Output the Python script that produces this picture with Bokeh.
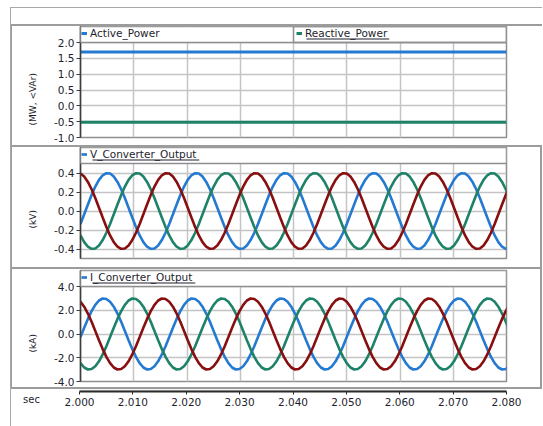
from bokeh.plotting import figure
from bokeh.models import (Range1d, FixedTicker, Grid, Legend, LegendItem, Title,
                          BoxAnnotation, PrintfTickFormatter, Spacer)
from bokeh.layouts import column, row
from bokeh.embed import file_html
from bokeh.resources import INLINE

# ---------------- data ----------------
X_START, X_END = 2.000, 2.080
X_TICKS = [2.000, 2.010, 2.020, 2.030, 2.040, 2.050, 2.060, 2.070, 2.080]

P_TICKS = [-1.0, -0.5, 0.0, 0.5, 1.0, 1.5, 2.0]
V_TICKS = [-0.4, -0.2, 0.0, 0.2, 0.4]
I_TICKS = [-4.0, -2.0, 0.0, 2.0, 4.0]
P_LIMITS = (-1.0, 2.0)
V_LIMITS = (-0.5, 0.5)
I_LIMITS = (-4.0, 4.0)

POWER_TIME = [2.000, 2.010, 2.020, 2.030, 2.040, 2.050, 2.060, 2.070, 2.080]
ACTIVE_POWER = [1.70, 1.70, 1.70, 1.70, 1.70, 1.70, 1.70, 1.70, 1.70]
REACTIVE_POWER = [-0.52, -0.52, -0.52, -0.52, -0.52, -0.52, -0.52, -0.52, -0.52]

# waveform sample grid (1/1440 s step = 15 electrical degrees at 60 Hz)
SAMPLE_STEP = 1.0 / 1440.0
TIME = [X_START + k * SAMPLE_STEP for k in range(117)]

V_PHASE_A = [
    -0.137, -0.035, 0.069, 0.169, 0.257, 0.328, 0.376, 0.398, 0.394, 0.363, 0.306, 0.229,
    0.137, 0.035, -0.069, -0.169, -0.257, -0.328, -0.376, -0.398, -0.394, -0.363, -0.306, -0.229,
    -0.137, -0.035, 0.069, 0.169, 0.257, 0.328, 0.376, 0.398, 0.394, 0.363, 0.306, 0.229,
    0.137, 0.035, -0.069, -0.169, -0.257, -0.328, -0.376, -0.398, -0.394, -0.363, -0.306, -0.229,
    -0.137, -0.035, 0.069, 0.169, 0.257, 0.328, 0.376, 0.398, 0.394, 0.363, 0.306, 0.229,
    0.137, 0.035, -0.069, -0.169, -0.257, -0.328, -0.376, -0.398, -0.394, -0.363, -0.306, -0.229,
    -0.137, -0.035, 0.069, 0.169, 0.257, 0.328, 0.376, 0.398, 0.394, 0.363, 0.306, 0.229,
    0.137, 0.035, -0.069, -0.169, -0.257, -0.328, -0.376, -0.398, -0.394, -0.363, -0.306, -0.229,
    -0.137, -0.035, 0.069, 0.169, 0.257, 0.328, 0.376, 0.398, 0.394, 0.363, 0.306, 0.229,
    0.137, 0.035, -0.069, -0.169, -0.257, -0.328, -0.376, -0.398, -0.394,
]
V_PHASE_B = [
    -0.257, -0.328, -0.376, -0.398, -0.394, -0.363, -0.306, -0.229, -0.137, -0.035, 0.069, 0.169,
    0.257, 0.328, 0.376, 0.398, 0.394, 0.363, 0.306, 0.229, 0.137, 0.035, -0.069, -0.169,
    -0.257, -0.328, -0.376, -0.398, -0.394, -0.363, -0.306, -0.229, -0.137, -0.035, 0.069, 0.169,
    0.257, 0.328, 0.376, 0.398, 0.394, 0.363, 0.306, 0.229, 0.137, 0.035, -0.069, -0.169,
    -0.257, -0.328, -0.376, -0.398, -0.394, -0.363, -0.306, -0.229, -0.137, -0.035, 0.069, 0.169,
    0.257, 0.328, 0.376, 0.398, 0.394, 0.363, 0.306, 0.229, 0.137, 0.035, -0.069, -0.169,
    -0.257, -0.328, -0.376, -0.398, -0.394, -0.363, -0.306, -0.229, -0.137, -0.035, 0.069, 0.169,
    0.257, 0.328, 0.376, 0.398, 0.394, 0.363, 0.306, 0.229, 0.137, 0.035, -0.069, -0.169,
    -0.257, -0.328, -0.376, -0.398, -0.394, -0.363, -0.306, -0.229, -0.137, -0.035, 0.069, 0.169,
    0.257, 0.328, 0.376, 0.398, 0.394, 0.363, 0.306, 0.229, 0.137,
]
V_PHASE_C = [
    0.394, 0.363, 0.306, 0.229, 0.137, 0.035, -0.069, -0.169, -0.257, -0.328, -0.376, -0.398,
    -0.394, -0.363, -0.306, -0.229, -0.137, -0.035, 0.069, 0.169, 0.257, 0.328, 0.376, 0.398,
    0.394, 0.363, 0.306, 0.229, 0.137, 0.035, -0.069, -0.169, -0.257, -0.328, -0.376, -0.398,
    -0.394, -0.363, -0.306, -0.229, -0.137, -0.035, 0.069, 0.169, 0.257, 0.328, 0.376, 0.398,
    0.394, 0.363, 0.306, 0.229, 0.137, 0.035, -0.069, -0.169, -0.257, -0.328, -0.376, -0.398,
    -0.394, -0.363, -0.306, -0.229, -0.137, -0.035, 0.069, 0.169, 0.257, 0.328, 0.376, 0.398,
    0.394, 0.363, 0.306, 0.229, 0.137, 0.035, -0.069, -0.169, -0.257, -0.328, -0.376, -0.398,
    -0.394, -0.363, -0.306, -0.229, -0.137, -0.035, 0.069, 0.169, 0.257, 0.328, 0.376, 0.398,
    0.394, 0.363, 0.306, 0.229, 0.137, 0.035, -0.069, -0.169, -0.257, -0.328, -0.376, -0.398,
    -0.394, -0.363, -0.306, -0.229, -0.137, -0.035, 0.069, 0.169, 0.257,
]

I_PHASE_A = [
    -0.26, 0.52, 1.27, 1.93, 2.46, 2.82, 2.99, 2.95, 2.72, 2.30, 1.72, 1.03,
    0.26, -0.52, -1.27, -1.93, -2.46, -2.82, -2.99, -2.95, -2.72, -2.30, -1.72, -1.03,
    -0.26, 0.52, 1.27, 1.93, 2.46, 2.82, 2.99, 2.95, 2.72, 2.30, 1.72, 1.03,
    0.26, -0.52, -1.27, -1.93, -2.46, -2.82, -2.99, -2.95, -2.72, -2.30, -1.72, -1.03,
    -0.26, 0.52, 1.27, 1.93, 2.46, 2.82, 2.99, 2.95, 2.72, 2.30, 1.72, 1.03,
    0.26, -0.52, -1.27, -1.93, -2.46, -2.82, -2.99, -2.95, -2.72, -2.30, -1.72, -1.03,
    -0.26, 0.52, 1.27, 1.93, 2.46, 2.82, 2.99, 2.95, 2.72, 2.30, 1.72, 1.03,
    0.26, -0.52, -1.27, -1.93, -2.46, -2.82, -2.99, -2.95, -2.72, -2.30, -1.72, -1.03,
    -0.26, 0.52, 1.27, 1.93, 2.46, 2.82, 2.99, 2.95, 2.72, 2.30, 1.72, 1.03,
    0.26, -0.52, -1.27, -1.93, -2.46, -2.82, -2.99, -2.95, -2.72,
]
I_PHASE_B = [
    -2.46, -2.82, -2.99, -2.95, -2.72, -2.30, -1.72, -1.03, -0.26, 0.52, 1.27, 1.93,
    2.46, 2.82, 2.99, 2.95, 2.72, 2.30, 1.72, 1.03, 0.26, -0.52, -1.27, -1.93,
    -2.46, -2.82, -2.99, -2.95, -2.72, -2.30, -1.72, -1.03, -0.26, 0.52, 1.27, 1.93,
    2.46, 2.82, 2.99, 2.95, 2.72, 2.30, 1.72, 1.03, 0.26, -0.52, -1.27, -1.93,
    -2.46, -2.82, -2.99, -2.95, -2.72, -2.30, -1.72, -1.03, -0.26, 0.52, 1.27, 1.93,
    2.46, 2.82, 2.99, 2.95, 2.72, 2.30, 1.72, 1.03, 0.26, -0.52, -1.27, -1.93,
    -2.46, -2.82, -2.99, -2.95, -2.72, -2.30, -1.72, -1.03, -0.26, 0.52, 1.27, 1.93,
    2.46, 2.82, 2.99, 2.95, 2.72, 2.30, 1.72, 1.03, 0.26, -0.52, -1.27, -1.93,
    -2.46, -2.82, -2.99, -2.95, -2.72, -2.30, -1.72, -1.03, -0.26, 0.52, 1.27, 1.93,
    2.46, 2.82, 2.99, 2.95, 2.72, 2.30, 1.72, 1.03, 0.26,
]
I_PHASE_C = [
    2.72, 2.30, 1.72, 1.03, 0.26, -0.52, -1.27, -1.93, -2.46, -2.82, -2.99, -2.95,
    -2.72, -2.30, -1.72, -1.03, -0.26, 0.52, 1.27, 1.93, 2.46, 2.82, 2.99, 2.95,
    2.72, 2.30, 1.72, 1.03, 0.26, -0.52, -1.27, -1.93, -2.46, -2.82, -2.99, -2.95,
    -2.72, -2.30, -1.72, -1.03, -0.26, 0.52, 1.27, 1.93, 2.46, 2.82, 2.99, 2.95,
    2.72, 2.30, 1.72, 1.03, 0.26, -0.52, -1.27, -1.93, -2.46, -2.82, -2.99, -2.95,
    -2.72, -2.30, -1.72, -1.03, -0.26, 0.52, 1.27, 1.93, 2.46, 2.82, 2.99, 2.95,
    2.72, 2.30, 1.72, 1.03, 0.26, -0.52, -1.27, -1.93, -2.46, -2.82, -2.99, -2.95,
    -2.72, -2.30, -1.72, -1.03, -0.26, 0.52, 1.27, 1.93, 2.46, 2.82, 2.99, 2.95,
    2.72, 2.30, 1.72, 1.03, 0.26, -0.52, -1.27, -1.93, -2.46, -2.82, -2.99, -2.95,
    -2.72, -2.30, -1.72, -1.03, -0.26, 0.52, 1.27, 1.93, 2.46,
]

# ---------------- styling ----------------
BLUE = "#2479d1"
GREEN = "#1e8268"
RED = "#870f0f"
GRID = "#c4c4c4"
FRAME = "#8e8e8e"
PANEL = "#9c9c9c"
AXIS = "#3c3c3c"
TEXT = "#1e1e2e"
FONT = "DejaVu Sans"

LEGEND_PX = 16
DATA_PX = 95
FRAME_PX = LEGEND_PX + DATA_PX
FIG_W = 531          # includes the CSS borders (border-box)
BORDER_L = 67
BORDER_R = 37
FRAME_W = FIG_W - BORDER_L - BORDER_R
X_PER_PX = (X_END - X_START) / FRAME_W
LEGEND_TEXT_X_PX = 12     # legend label starts 12 px right of the frame edge
UNDERLINE_UP_PX = 3       # underline sits 3 px above the legend strip bottom


def make_panel(height, mbt, limits, ticks, ylabel, caption_lift, styles):
    lo, hi = limits
    y_per_px = (hi - lo) / DATA_PX
    top = hi + LEGEND_PX * y_per_px
    p = figure(width=FIG_W, height=height, output_backend="svg",
               toolbar_location=None, title=None,
               x_range=Range1d(X_START, X_END), y_range=Range1d(lo, top),
               x_axis_location=None,
               min_border_left=BORDER_L, min_border_right=BORDER_R,
               min_border_top=mbt, min_border_bottom=height - mbt - FRAME_PX,
               styles=styles)
    p.background_fill_color = "white"
    p.border_fill_color = "white"
    p.outline_line_color = FRAME
    p.outline_line_width = 1.5

    ax = p.yaxis[0]
    ax.ticker = FixedTicker(ticks=ticks)
    ax.formatter = PrintfTickFormatter(format="%.1f")
    ax.axis_line_color = AXIS
    ax.axis_line_width = 1.5
    ax.major_tick_line_color = AXIS
    ax.major_tick_out = 4
    ax.major_tick_in = 0
    ax.minor_tick_line_color = None
    ax.major_label_standoff = 2
    ax.major_label_text_font = FONT
    ax.major_label_text_font_size = "10.5px"
    ax.major_label_text_color = TEXT

    # unit caption, starting caption_lift px above the bottom of the frame
    p.add_layout(Title(text=ylabel, align="left", offset=caption_lift, standoff=27,
                       text_font=FONT, text_font_size="9px",
                       text_font_style="normal", text_color=TEXT), "left")

    p.ygrid[0].ticker = FixedTicker(ticks=ticks)
    p.ygrid[0].grid_line_color = GRID
    p.ygrid[0].grid_line_width = 1.5
    p.add_layout(Grid(dimension=0, ticker=FixedTicker(ticks=X_TICKS),
                      grid_line_color=GRID, grid_line_width=1.5))

    # legend strip at the top of the frame
    p.add_layout(BoxAnnotation(bottom=hi, fill_color="white", fill_alpha=1.0,
                               line_color=FRAME, line_alpha=1.0, line_width=1.5))
    return p


def add_legend(p, items):
    leg = Legend(items=items, location="top_left", orientation="horizontal",
                 margin=1, padding=2, spacing=6,
                 border_line_color=None, background_fill_alpha=0,
                 glyph_width=6, glyph_height=12, label_height=12,
                 label_standoff=3, label_width=200,
                 label_text_font=FONT, label_text_font_size="10.5px",
                 label_text_color=TEXT)
    leg.level = "overlay"
    p.add_layout(leg)


def underline(p, limits, start_px, width_px):
    lo, hi = limits
    y_per_px = (hi - lo) / DATA_PX
    base = hi + UNDERLINE_UP_PX * y_per_px
    p.add_layout(BoxAnnotation(left=X_START + start_px * X_PER_PX,
                               right=X_START + (start_px + width_px) * X_PER_PX,
                               bottom=base, top=base + 1.0 * y_per_px,
                               fill_color=TEXT, fill_alpha=1.0, line_color=None,
                               level="overlay"))


BORDER_CSS = "2px solid " + PANEL
LEFT_CSS = "1px solid " + PANEL

# ---- panel 1: power ----
p1 = make_panel(121, 0, P_LIMITS, P_TICKS, "(MW, <VAr)", 12,
                {"border-top": BORDER_CSS, "border-left": LEFT_CSS})
r_p = p1.line(POWER_TIME, ACTIVE_POWER, line_color=BLUE, line_width=3)
r_q = p1.line(POWER_TIME, REACTIVE_POWER, line_color=GREEN, line_width=3)
p1.add_layout(BoxAnnotation(left=(X_START + X_END) / 2, bottom=P_LIMITS[1],
                            fill_alpha=0.0, line_color=FRAME, line_alpha=1.0,
                            line_width=1.5))
add_legend(p1, [LegendItem(label="Active_Power", renderers=[r_p]),
                LegendItem(label="Reactive_Power", renderers=[r_q])])
underline(p1, P_LIMITS, FRAME_W / 2 + LEGEND_TEXT_X_PX + 1, 83)

# ---- panel 2: voltage ----
p2 = make_panel(122, 0, V_LIMITS, V_TICKS, "(kV)", 30,
                {"border-top": BORDER_CSS, "border-left": LEFT_CSS,
                 "border-right": BORDER_CSS})
rv_a = p2.line(TIME, V_PHASE_A, line_color=BLUE, line_width=2.6)
p2.line(TIME, V_PHASE_B, line_color=GREEN, line_width=2.6)
p2.line(TIME, V_PHASE_C, line_color=RED, line_width=2.6)
add_legend(p2, [LegendItem(label="V_Converter_Output", renderers=[rv_a])])
underline(p2, V_LIMITS, LEGEND_TEXT_X_PX, 107)

# ---- panel 3: current ----
p3 = make_panel(122, 1, I_LIMITS, I_TICKS, "(kA)", 29,
                {"border-top": BORDER_CSS, "border-left": LEFT_CSS,
                 "border-right": BORDER_CSS, "border-bottom": BORDER_CSS})
ri_a = p3.line(TIME, I_PHASE_A, line_color=BLUE, line_width=2.6)
p3.line(TIME, I_PHASE_B, line_color=GREEN, line_width=2.6)
p3.line(TIME, I_PHASE_C, line_color=RED, line_width=2.6)
add_legend(p3, [LegendItem(label="I_Converter_Output", renderers=[ri_a])])
underline(p3, I_LIMITS, LEGEND_TEXT_X_PX, 103)

# ---- shared time axis strip ----
STRIP_H = 37
CAPTION_W = 40

# caption cell: a tick-less bottom axis whose label is the "sec" unit
pc = figure(width=CAPTION_W, height=STRIP_H, output_backend="svg",
            toolbar_location=None, title=None,
            x_range=Range1d(0, 1), y_range=Range1d(0, 1),
            x_axis_location="below", y_axis_location=None,
            min_border_left=0, min_border_right=0,
            min_border_top=0, min_border_bottom=STRIP_H - 2)
pc.outline_line_color = None
pc.background_fill_color = "white"
pc.border_fill_color = "white"
for g in pc.grid:
    g.visible = False
ca = pc.xaxis[0]
ca.ticker = FixedTicker(ticks=[])
ca.axis_line_color = None
ca.major_tick_line_color = None
ca.minor_tick_line_color = None
ca.major_tick_out = 0
ca.minor_tick_out = 0
ca.major_label_standoff = 0
ca.axis_label = "sec"
ca.axis_label_standoff = 2
ca.axis_label_text_font = FONT
ca.axis_label_text_font_size = "10px"
ca.axis_label_text_font_style = "normal"
ca.axis_label_text_color = TEXT

ps = figure(width=FIG_W - 2 - CAPTION_W, height=STRIP_H, output_backend="svg",
            toolbar_location=None, title=None,
            x_range=Range1d(X_START, X_END), y_range=Range1d(0, 1),
            y_axis_location=None,
            min_border_left=BORDER_L + 1 - CAPTION_W, min_border_right=BORDER_R - 3,
            min_border_top=0, min_border_bottom=STRIP_H - 2)
ps.outline_line_color = None
ps.background_fill_color = "white"
ps.border_fill_color = "white"
ps.xgrid.visible = False
xa = ps.xaxis[0]
xa.ticker = FixedTicker(ticks=X_TICKS)
xa.formatter = PrintfTickFormatter(format="%.3f")
xa.axis_line_color = "#2a2a2a"
xa.axis_line_width = 2
xa.major_tick_line_color = "#2a2a2a"
xa.major_tick_out = 3
xa.major_tick_in = 0
xa.minor_tick_line_color = None
xa.major_label_standoff = 3
xa.major_label_text_font = FONT
xa.major_label_text_font_size = "10.5px"
xa.major_label_text_color = TEXT

strip = row(pc, ps)

layout = column(Spacer(width=1, height=16), p1, p2, p3, strip,
                margin=(7, 0, 0, 10),
                styles={"border-top": "1px solid #a8a8a8",
                        "border-left": "1px solid #a8a8a8"})

with open("out.html", "w") as f:
    f.write(file_html(layout, INLINE))
